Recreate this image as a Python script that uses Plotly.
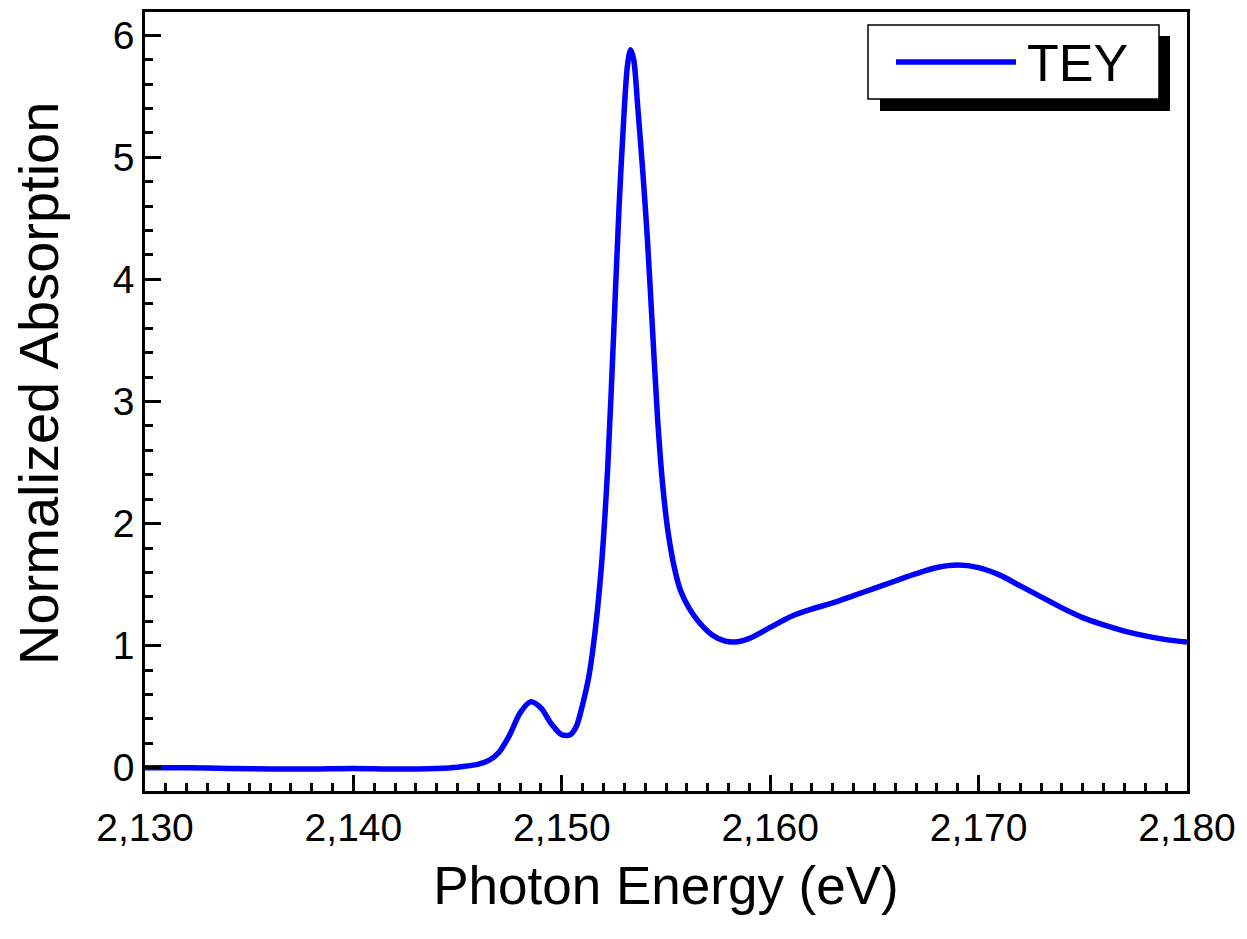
import plotly.graph_objects as go

# Data
energy = [2130, 2132, 2134, 2136, 2138, 2140, 2142, 2144, 2145, 2146, 2146.5, 2147, 2147.5,
          2148, 2148.5, 2149, 2149.5, 2150, 2150.4, 2150.7, 2151.0, 2151.3, 2151.6, 2151.9,
          2152.2, 2152.5, 2152.75, 2153.0, 2153.15, 2153.3, 2153.45, 2153.65, 2153.9, 2154.1,
          2154.35, 2154.6, 2154.85, 2155.1, 2155.4, 2155.7, 2156.1, 2156.6, 2157.2, 2157.8,
          2158.3, 2159, 2160, 2161, 2162, 2163, 2164, 2165, 2166, 2167, 2168, 2169, 2170,
          2171, 2172, 2173, 2174, 2175, 2176, 2177, 2178, 2179, 2180]
absorption = [0.00, 0.00, -0.005, -0.01, -0.01, -0.005, -0.01, -0.005, 0.005, 0.03, 0.06, 0.13, 0.27,
              0.45, 0.54, 0.49, 0.36, 0.27, 0.27, 0.34, 0.52, 0.75, 1.12, 1.65,
              2.45, 3.6, 4.6, 5.4, 5.75, 5.88, 5.8, 5.4, 4.85, 4.35,
              3.6, 2.85, 2.3, 1.93, 1.64, 1.45, 1.31, 1.19, 1.09, 1.04,
              1.03, 1.06, 1.15, 1.24, 1.30, 1.35, 1.41, 1.47, 1.53, 1.59, 1.64, 1.66, 1.64,
              1.58, 1.49, 1.40, 1.31, 1.23, 1.17, 1.12, 1.08, 1.05, 1.03]
series_name = "TEY"
x_title = "Photon Energy (eV)"
y_title = "Normalized Absorption"

W, H = 1247, 939
L, R, T, B = 145, 1187, 12, 791

def px(x):
    return (x - L) / (R - L)

def py(y):
    return (B - y) / (B - T)

FONT = "Liberation Sans, Arial, sans-serif"

fig = go.Figure()
fig.add_trace(go.Scatter(x=energy, y=absorption, mode="lines", name=series_name,
                         line=dict(color="#0000FF", width=5.5, shape="spline", smoothing=0.8),
                         showlegend=False))

axis_common = dict(showline=True, linecolor="black", linewidth=2.5, mirror=True,
                   ticks="inside", tickcolor="black", tickwidth=2.5, ticklen=16,
                   showgrid=False, zeroline=False,
                   tickfont=dict(family=FONT, size=39, color="black"))

fig.update_xaxes(range=[2130, 2180], dtick=10, tick0=2130, tickformat=",d",
                 minor=dict(dtick=1, ticks="inside", ticklen=8, tickwidth=2.5, tickcolor="black"),
                 title=dict(text=x_title, font=dict(family=FONT, size=53, color="black"), standoff=20),
                 **axis_common)
fig.update_yaxes(range=[-0.19, 6.19], dtick=1, tick0=0,
                 minor=dict(dtick=0.2, ticks="inside", ticklen=8, tickwidth=2.5, tickcolor="black"),
                 **axis_common)

# Y-axis title placed as a rotated annotation
fig.add_annotation(xref="paper", yref="paper", x=px(38), y=py(384), xanchor="center", yanchor="middle",
                   text=y_title, textangle=-90, showarrow=False,
                   font=dict(family=FONT, size=56, color="black"))

# Legend box with drop shadow
shapes = [
    dict(type="rect", xref="paper", yref="paper", x0=px(880), x1=px(1170), y0=py(111), y1=py(36),
         fillcolor="black", line=dict(width=0), layer="above"),
    dict(type="rect", xref="paper", yref="paper", x0=px(868), x1=px(1159), y0=py(99), y1=py(25),
         fillcolor="white", line=dict(color="black", width=1.5), layer="above"),
    dict(type="line", xref="paper", yref="paper", x0=px(896), x1=px(1016), y0=py(62), y1=py(62),
         line=dict(color="#0000FF", width=5.5), layer="above"),
]
fig.update_layout(shapes=shapes)
fig.add_annotation(xref="paper", yref="paper", x=px(1025), y=py(63), xanchor="left", yanchor="middle",
                   text=series_name, showarrow=False,
                   font=dict(family=FONT, size=52, color="black"))

fig.update_layout(width=W, height=H, margin=dict(l=L, r=W - R, t=T, b=H - B, autoexpand=False),
                  paper_bgcolor="white", plot_bgcolor="white",
                  font=dict(family=FONT, color="black"))

fig.write_html("out.html")
